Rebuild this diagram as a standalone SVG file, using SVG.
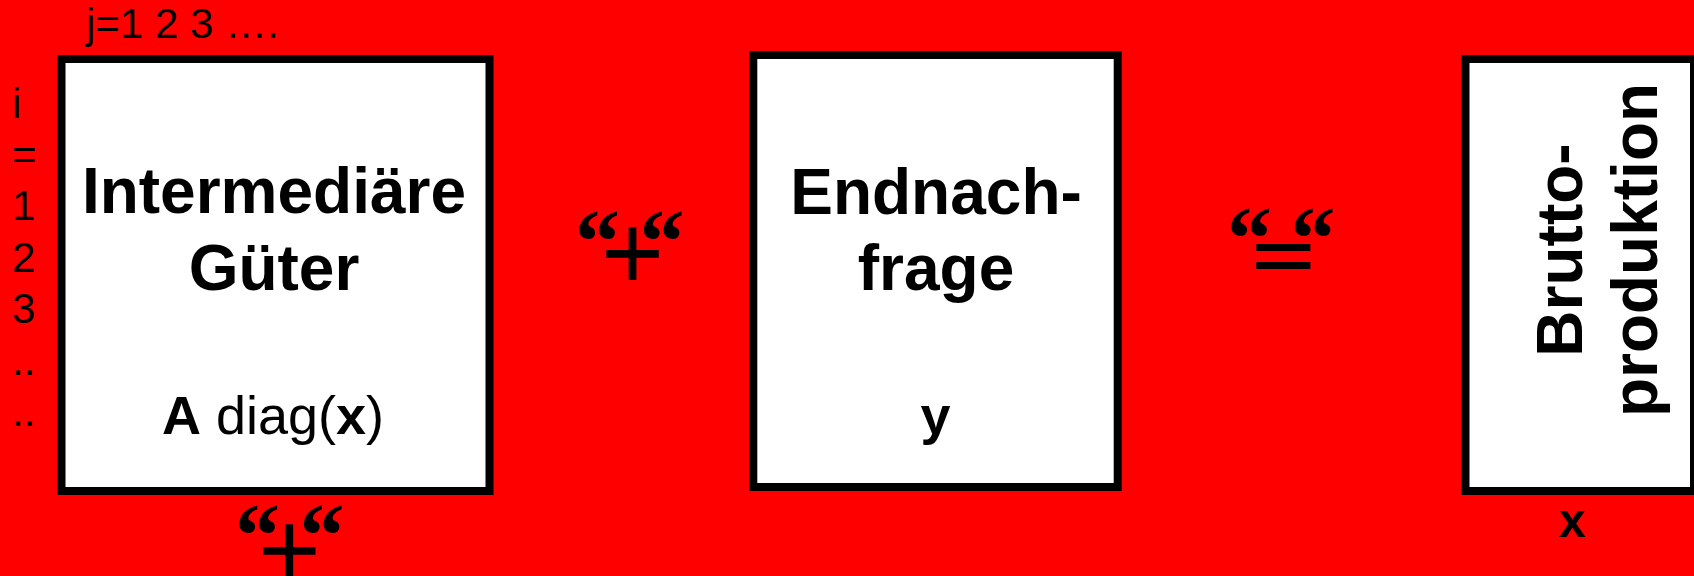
<svg xmlns="http://www.w3.org/2000/svg" width="1694" height="576" viewBox="0 0 1694 576">
  <style>
    .box { fill: #ffffff; stroke: #000000; stroke-width: 8; }
    .t { font-family: "Liberation Sans", Arial, sans-serif; fill: #000000; }
    .b { font-weight: bold; }
    .title { font-size: 64px; font-weight: bold; text-anchor: middle; }
    .sym { font-size: 54px; text-anchor: middle; }
    .idx { font-size: 42px; }
    .q { font-family: "Liberation Serif", "Times New Roman", serif; font-weight: bold; font-size: 90px; fill: #000000; }
    .op { font-family: "Liberation Sans", Arial, sans-serif; font-size: 108px; fill: #000000; text-anchor: middle; }
  </style>
  <rect x="0" y="0" width="1694" height="576" fill="#ff0000"/>

  <g id="indices">
    <text class="t idx" x="86" y="38">j=1 2 3 ….</text>
    <text class="t idx" x="12" y="117.6">i</text>
    <text class="t idx" x="12" y="169">=</text>
    <text class="t idx" x="12" y="220.4">1</text>
    <text class="t idx" x="12" y="271.8">2</text>
    <text class="t idx" x="12" y="323.2">3</text>
    <text class="t idx" x="12" y="374.6">..</text>
    <text class="t idx" x="12" y="426">..</text>
  </g>

  <g id="node-intermediaere-gueter">
    <rect class="box" x="61.5" y="59" width="428" height="432"/>
    <text class="t title" x="274" y="213">Intermediäre</text>
    <text class="t title" x="274" y="290">Güter</text>
    <text class="t sym" x="273" y="433.5"><tspan class="b">A</tspan> diag(<tspan class="b">x</tspan>)</text>
  </g>

  <g id="node-endnachfrage">
    <rect class="box" x="753.3" y="55" width="364.4" height="432"/>
    <text class="t title" x="936" y="214">Endnach-</text>
    <text class="t title" x="936" y="290">frage</text>
    <text class="t sym b" x="935.5" y="433.5">y</text>
  </g>

  <g id="node-bruttoproduktion">
    <rect class="box" x="1465.5" y="59" width="228.5" height="432"/>
    <text class="t title" transform="translate(1581.7,250) rotate(-90)" x="0" y="0">Brutto-</text>
    <text class="t title" transform="translate(1656.7,250) rotate(-90)" x="0" y="0">produktion</text>
    <text class="t b" x="1572" y="536.7" font-size="48" text-anchor="middle">x</text>
  </g>

  <g id="connectors">
    <g id="op-plus-1">
      <text class="q" x="575" y="272">“</text>
      <text class="op" x="632.5" y="289">+</text>
      <text class="q" x="639.5" y="272">“</text>
    </g>
    <g id="op-equals">
      <text class="q" x="1227" y="269">“</text>
      <text class="op b" transform="translate(1283.3,278) scale(1,0.6)" x="0" y="0" font-size="124">=</text>
      <text class="q" x="1290.5" y="269">“</text>
    </g>
    <g id="op-plus-2">
      <text class="q" x="235" y="566">“</text>
      <text class="op" x="289.2" y="586">+</text>
      <text class="q" x="299.5" y="566">“</text>
    </g>
  </g>
</svg>
